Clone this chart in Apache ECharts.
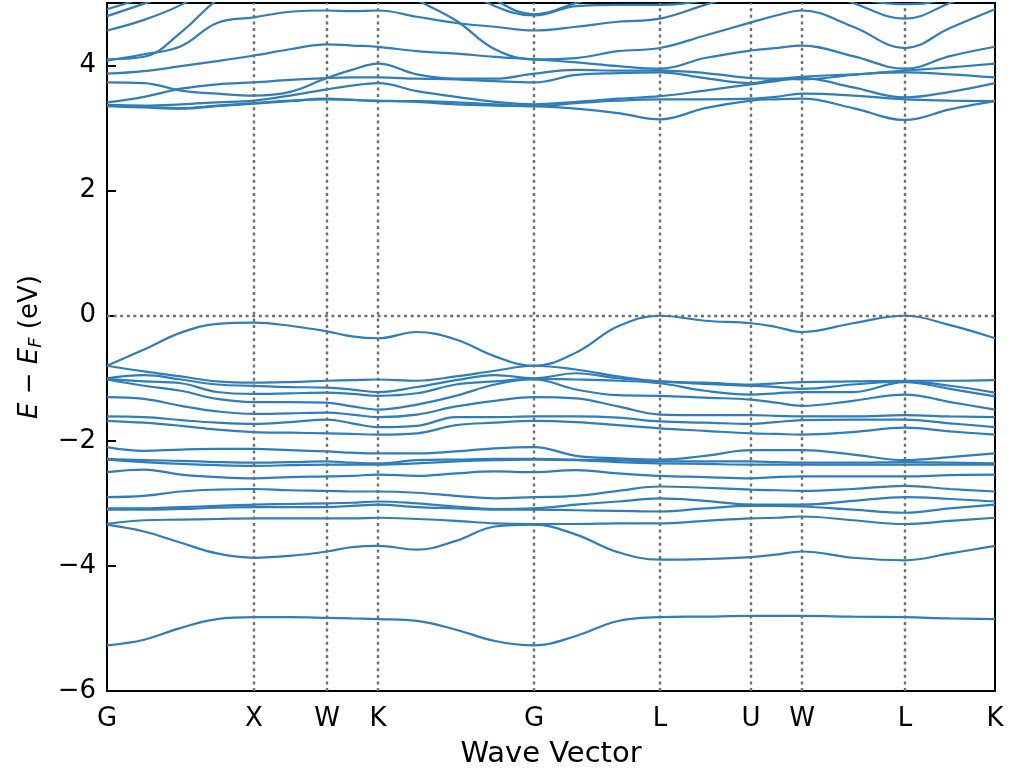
<!DOCTYPE html>
<html>
<head>
<meta charset="utf-8">
<title>Band structure</title>
<script src="https://cdn.jsdelivr.net/npm/echarts@6/dist/echarts.min.js"></script>
<style>
  html, body { margin: 0; padding: 0; background: #fff; }
  #main { width: 1013px; height: 779px; }
</style>
</head>
<body>
<div id="main"></div>
<script>
// high symmetry points along the k-path
const kTicks = [0, 1.47, 2.20, 2.71, 4.27, 5.53, 6.44, 6.95, 7.98, 8.88];
const kLabels = ['G', 'X', 'W', 'K', 'G', 'L', 'U', 'W', 'L', 'K'];

const kGrid = [0, 0.37, 0.74, 1.10, 1.47, 1.83, 2.20, 2.45, 2.71, 3.10, 3.49, 3.88,
  4.27, 4.69, 5.11, 5.53, 5.98, 6.44, 6.69, 6.95, 7.46, 7.98, 8.43, 8.88];

// valence bands, one row per k-point (sorted by energy)
const valenceAtK = [
  [-0.80, -0.80, -1.00, -1.01, -1.02, -1.30, -1.61, -1.68, -2.10, -2.29, -2.30, -2.50, -2.90, -3.08, -3.10, -3.33, -3.34, -5.27],
  [-0.54, -0.89, -0.95, -1.05, -1.12, -1.33, -1.62, -1.71, -2.16, -2.31, -2.34, -2.46, -2.88, -3.08, -3.10, -3.27, -3.45, -5.18],
  [-0.27, -0.97, -1.02, -1.08, -1.20, -1.44, -1.67, -1.76, -2.14, -2.32, -2.37, -2.54, -2.81, -3.06, -3.09, -3.26, -3.63, -4.99],
  [-0.13, -1.05, -1.10, -1.22, -1.33, -1.53, -1.71, -1.82, -2.13, -2.34, -2.39, -2.58, -2.78, -3.04, -3.07, -3.25, -3.80, -4.85],
  [-0.11, -1.07, -1.12, -1.25, -1.38, -1.57, -1.73, -1.86, -2.13, -2.35, -2.40, -2.60, -2.77, -3.02, -3.06, -3.24, -3.87, -4.82],
  [-0.16, -1.06, -1.14, -1.24, -1.38, -1.56, -1.70, -1.87, -2.15, -2.34, -2.39, -2.58, -2.79, -3.01, -3.06, -3.24, -3.84, -4.82],
  [-0.25, -1.04, -1.15, -1.23, -1.39, -1.55, -1.66, -1.88, -2.17, -2.33, -2.38, -2.57, -2.80, -3.00, -3.06, -3.24, -3.77, -4.83],
  [-0.33, -1.03, -1.18, -1.25, -1.45, -1.58, -1.72, -1.89, -2.19, -2.35, -2.38, -2.56, -2.81, -2.99, -3.04, -3.24, -3.70, -4.84],
  [-0.36, -1.02, -1.22, -1.28, -1.50, -1.62, -1.78, -1.90, -2.20, -2.36, -2.38, -2.54, -2.81, -2.97, -3.02, -3.23, -3.68, -4.85],
  [-0.26, -1.04, -1.14, -1.24, -1.42, -1.58, -1.76, -1.88, -2.20, -2.31, -2.36, -2.56, -2.83, -3.00, -3.06, -3.25, -3.74, -4.88],
  [-0.38, -0.97, -1.03, -1.10, -1.28, -1.45, -1.62, -1.75, -2.17, -2.30, -2.33, -2.52, -2.88, -3.05, -3.08, -3.28, -3.60, -5.02],
  [-0.65, -0.88, -0.95, -1.05, -1.10, -1.36, -1.62, -1.71, -2.12, -2.29, -2.31, -2.49, -2.92, -3.09, -3.10, -3.32, -3.37, -5.20],
  [-0.80, -0.80, -1.00, -1.01, -1.02, -1.30, -1.61, -1.68, -2.10, -2.29, -2.30, -2.50, -2.90, -3.08, -3.10, -3.33, -3.34, -5.27],
  [-0.59, -0.86, -0.92, -1.02, -1.18, -1.32, -1.61, -1.70, -2.24, -2.30, -2.31, -2.47, -2.88, -3.02, -3.11, -3.33, -3.50, -5.12],
  [-0.17, -0.97, -1.00, -1.04, -1.27, -1.45, -1.63, -1.75, -2.28, -2.31, -2.34, -2.52, -2.80, -2.97, -3.12, -3.32, -3.78, -4.88],
  [0.00, -1.05, -1.05, -1.08, -1.28, -1.58, -1.69, -1.80, -2.30, -2.33, -2.36, -2.56, -2.73, -2.92, -3.13, -3.32, -3.90, -4.82],
  [-0.08, -1.07, -1.09, -1.20, -1.31, -1.59, -1.71, -1.84, -2.24, -2.33, -2.37, -2.58, -2.75, -2.96, -3.08, -3.28, -3.89, -4.81],
  [-0.12, -1.10, -1.12, -1.26, -1.34, -1.59, -1.73, -1.88, -2.15, -2.33, -2.38, -2.60, -2.78, -3.02, -3.04, -3.24, -3.86, -4.80],
  [-0.18, -1.08, -1.14, -1.24, -1.39, -1.60, -1.70, -1.89, -2.15, -2.34, -2.38, -2.58, -2.79, -3.02, -3.04, -3.23, -3.82, -4.80],
  [-0.26, -1.06, -1.17, -1.22, -1.44, -1.61, -1.67, -1.90, -2.15, -2.35, -2.38, -2.57, -2.80, -3.02, -3.05, -3.21, -3.77, -4.80],
  [-0.12, -1.05, -1.10, -1.22, -1.36, -1.61, -1.66, -1.86, -2.22, -2.35, -2.38, -2.57, -2.77, -2.96, -3.10, -3.27, -3.87, -4.81],
  [0.00, -1.04, -1.05, -1.06, -1.26, -1.59, -1.66, -1.79, -2.31, -2.34, -2.38, -2.57, -2.72, -2.90, -3.15, -3.33, -3.91, -4.82],
  [-0.15, -1.04, -1.12, -1.17, -1.38, -1.61, -1.72, -1.85, -2.26, -2.35, -2.38, -2.55, -2.77, -2.93, -3.08, -3.28, -3.80, -4.84],
  [-0.36, -1.03, -1.23, -1.29, -1.50, -1.62, -1.78, -1.90, -2.20, -2.36, -2.38, -2.54, -2.81, -2.97, -3.02, -3.23, -3.68, -4.85]
];

// conduction bands, one row per band along kGrid (values above 5 leave the frame)
const conductionBands = [
  [3.35, 3.33, 3.31, 3.35, 3.39, 3.43, 3.47, 3.45, 3.43, 3.43, 3.41, 3.38, 3.35, 3.40, 3.44, 3.46, 3.46, 3.47, 3.50, 3.55, 3.52, 3.46, 3.44, 3.43],
  [3.37, 3.36, 3.38, 3.41, 3.44, 3.52, 3.62, 3.68, 3.72, 3.59, 3.50, 3.42, 3.38, 3.42, 3.47, 3.51, 3.60, 3.70, 3.75, 3.80, 3.65, 3.49, 3.58, 3.72],
  [3.36, 3.34, 3.32, 3.36, 3.40, 3.44, 3.46, 3.45, 3.44, 3.42, 3.38, 3.36, 3.35, 3.31, 3.24, 3.14, 3.32, 3.44, 3.46, 3.47, 3.32, 3.13, 3.30, 3.43],
  [3.41, 3.50, 3.63, 3.70, 3.73, 3.77, 3.80, 3.81, 3.81, 3.79, 3.78, 3.75, 3.73, 3.85, 3.88, 3.89, 3.80, 3.72, 3.78, 3.82, 3.86, 3.89, 3.86, 3.81],
  [3.73, 3.72, 3.60, 3.55, 3.52, 3.58, 3.80, 3.93, 4.03, 3.86, 3.79, 3.79, 3.87, 3.93, 3.92, 3.92, 3.88, 3.80, 3.79, 3.78, 3.85, 3.92, 3.97, 4.03],
  [3.87, 3.91, 3.99, 4.07, 4.16, 4.26, 4.34, 4.32, 4.30, 4.23, 4.19, 4.14, 4.10, 4.05, 3.99, 3.95, 4.12, 4.24, 4.28, 4.32, 4.15, 3.95, 4.15, 4.30],
  [4.08, 4.18, 4.31, 4.68, 4.77, 4.86, 4.88, 4.87, 4.88, 4.78, 4.68, 4.62, 4.56, 4.62, 4.70, 4.75, 4.97, 5.20, 5.30, 5.30, 5.00, 4.75, 5.00, 5.30],
  [4.10, 4.14, 4.53, 5.05, 5.40, 5.50, 5.50, 5.50, 5.40, 5.05, 4.72, 4.26, 4.10, 4.12, 4.23, 4.28, 4.48, 4.69, 4.80, 4.88, 4.62, 4.28, 4.60, 4.90],
  [4.56, 4.73, 4.97, 5.30, 5.60, 5.70, 5.70, 5.70, 5.70, 5.60, 5.30, 4.95, 4.80, 4.95, 4.97, 4.97, 5.05, 5.30, 5.50, 5.40, 5.10, 4.98, 5.10, 5.50],
  [4.79, 4.99, 5.20, 5.50, 5.80, 5.90, 5.90, 5.90, 5.90, 5.80, 5.50, 5.05, 4.82, 5.00, 5.20, 5.40, 5.60, 5.70, 5.70, 5.60, 5.50, 5.40, 5.60, 5.80],
  [4.90, 5.10, 5.40, 5.70, 6.00, 6.10, 6.10, 6.10, 6.00, 5.90, 5.70, 5.50, 5.40, 5.50, 5.60, 5.70, 5.80, 5.90, 5.90, 5.80, 5.70, 5.60, 5.80, 6.00]
];

const yTicks = [-6, -4, -2, 0, 2, 4];

const chart = echarts.init(document.getElementById('main'), null, { renderer: 'canvas' });

const font = 'DejaVu Sans';
const bandColor = '#2e7ebc';

// transpose valence rows into bands
const bands = [];
for (let b = 0; b < valenceAtK[0].length; b++) {
  bands.push(valenceAtK.map(row => row[b]));
}
conductionBands.forEach(c => bands.push(c));

const series = bands.map(function (band) {
  return {
    type: 'line',
    data: band.map((e, i) => [kGrid[i], e]),
    showSymbol: false,
    smooth: 0.4,
    clip: true,
    silent: true,
    lineStyle: { color: bandColor, width: 2.2 },
    z: 2
  };
});

// dotted guide lines at the high symmetry points and at the Fermi level (drawn over the bands)
series.push({
  type: 'line',
  data: [],
  silent: true,
  z: 4,
  markLine: {
    silent: true,
    symbol: 'none',
    label: { show: false },
    lineStyle: { color: '#6f6f6f', type: [3, 3.6], width: 2.4 },
    data: kTicks.slice(1, -1).map(k => ({ xAxis: k })).concat([{ yAxis: 0 }])
  }
});

const option = {
  backgroundColor: '#fff',
  animation: false,
  grid: {
    left: 107, top: 3, width: 888, height: 688,
    show: true, borderColor: '#000', borderWidth: 2,
    outerBoundsMode: 'none'
  },
  xAxis: {
    type: 'value',
    min: 0, max: 8.88,
    axisLine: { show: false },
    axisTick: { show: false },
    splitLine: { show: false },
    axisLabel: {
      customValues: kTicks,
      margin: 15,
      color: '#000', fontSize: 26, fontFamily: font,
      formatter: function (v) {
        const i = kTicks.findIndex(t => Math.abs(t - v) < 1e-6);
        return i >= 0 ? kLabels[i] : '';
      }
    },
    name: 'Wave Vector',
    nameLocation: 'middle',
    nameGap: 49,
    nameMoveOverlap: false,
    nameTextStyle: { color: '#000', fontSize: 29, fontFamily: font }
  },
  yAxis: {
    type: 'value',
    min: -6, max: 5, interval: 2,
    axisLine: { show: false },
    splitLine: { show: false },
    axisTick: {
      customValues: yTicks, inside: true, length: 9,
      lineStyle: { color: '#000', width: 2 }
    },
    axisLabel: {
      customValues: yTicks,
      margin: 11,
      color: '#000', fontSize: 26, fontFamily: font,
      formatter: v => String(v).replace('-', '\u2212')
    },
    name: '{i|E} \u2212 {i|E}{s|F} (eV)',
    nameLocation: 'middle',
    nameGap: 62,
    nameMoveOverlap: false,
    nameTextStyle: {
      color: '#000', fontSize: 26, fontFamily: font,
      rich: {
        i: { fontStyle: 'italic', fontSize: 26, fontFamily: font, color: '#000' },
        s: { fontStyle: 'italic', fontSize: 18, fontFamily: font, color: '#000', padding: [12, 0, 0, 0] }
      }
    }
  },
  series: series
};

chart.setOption(option);
</script>
</body>
</html>
